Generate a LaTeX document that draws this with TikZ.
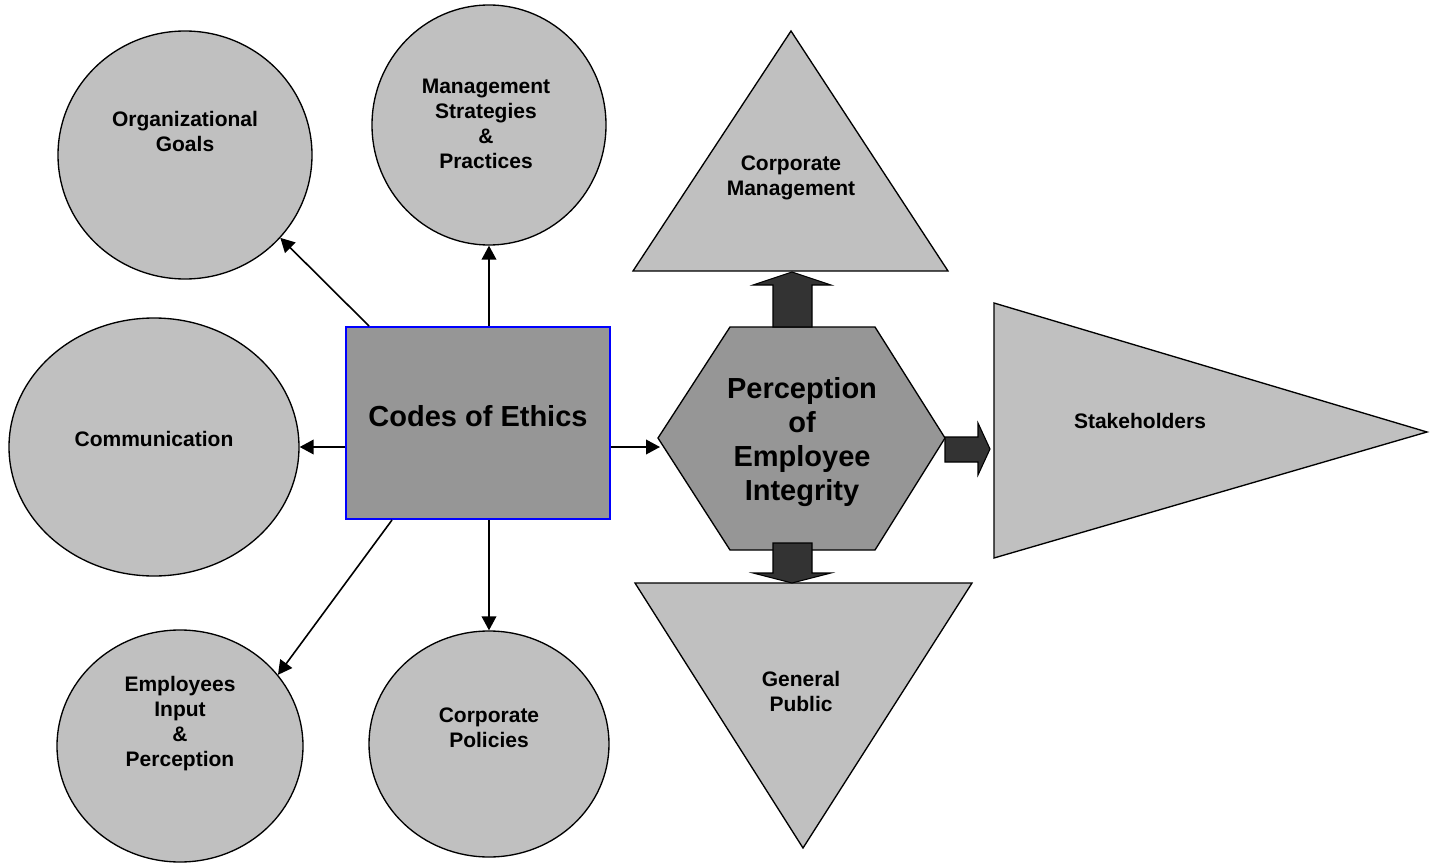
\documentclass[tikz,border=0pt]{standalone}
\usepackage{fontspec}
\setmainfont{Liberation Sans}
\usetikzlibrary{shapes.geometric,arrows.meta,calc}
\definecolor{lightgr}{HTML}{C0C0C0}
\definecolor{midgr}{HTML}{969696}
\definecolor{darkgr}{HTML}{333333}
\begin{document}
\begin{tikzpicture}[x=0.75pt,y=-0.75pt,
  bubble/.style={ellipse, draw=black, line width=1pt, fill=lightgr, inner sep=0pt},
  smalltxt/.style={font=\bfseries\fontsize{15.75}{18.75}\selectfont, align=center, inner sep=0pt},
  bigtxt/.style={font=\bfseries\fontsize{21.75}{25.5}\selectfont, align=center, inner sep=0pt},
  conn/.style={line width=1.2pt, -{Triangle[length=10.5pt,width=11pt]}},
  flat/.style={draw=black, line width=1pt, fill=lightgr, line join=miter},
  blockarrow/.style={draw=black, line width=0.8pt, fill=darkgr, line join=miter},
]
\useasboundingbox (0,0) rectangle (1432,863);

% ---- ellipses around the code of ethics ----
\node[bubble, minimum width=190.5pt, minimum height=186pt] (org)  at (185,155) {};
\node[bubble, minimum width=175.5pt, minimum height=180pt] (mgmt) at (489,125) {};
\node[bubble, minimum width=217.5pt, minimum height=193.5pt] (comm) at (154,447) {};
\node[bubble, minimum width=184.5pt, minimum height=174pt] (emp)  at (180,746) {};
\node[bubble, minimum width=180pt, minimum height=169.5pt] (pol)  at (489,744) {};

\node[smalltxt] (orgT)  at (185,131) {Organizational\\Goals};
\node[smalltxt] (mgmtT) at (486,124) {Management\\Strategies\\\&\\Practices};
\node[smalltxt] (commT) at (154,439) {Communication};
\node[smalltxt] (empT)  at (180,724) {Employees\\Input\\\&\\Perception};
\node[smalltxt] (polT)  at (489,728) {Corporate\\Policies};

% ---- central box ----
\node[draw=blue, line width=1.4pt, fill=midgr, minimum width=198pt, minimum height=144pt,
      inner sep=0pt] (box) at (478,423) {};
\node[bigtxt] (boxT) at (478,416) {Codes of Ethics};

% ---- connectors from the box ----
\draw[conn] ($(box.north west)+(24,0)$) -- (org.-41);
\draw[conn] (mgmt.south |- box.north) -- (mgmt.south);
\draw[conn] (box.west |- comm.east) -- (comm.east);
\draw[conn] ($(box.south west)+(47,0)$) -- (emp.36);
\draw[conn] (pol.north |- box.south) -- (pol.north);

% ---- audience triangles ----
\coordinate (tA) at (791,31);
\coordinate (tL) at (633,271);
\coordinate (tR) at (948,271);
\draw[flat] (tA) -- (tR) -- (tL) -- cycle;
\node[smalltxt] (corpT) at (791,178) {Corporate\\Management};

\coordinate (bA) at (803,848);
\coordinate (bL) at (635,583);
\coordinate (bR) at (972,583);
\draw[flat] (bL) -- (bR) -- (bA) -- cycle;
\node[smalltxt] (pubT) at (801,691) {General\\Public};

\coordinate (sT) at (994,303);
\coordinate (sB) at (994,558);
\coordinate (sA) at (1427,432);
\draw[flat] (sT) -- (sA) -- (sB) -- cycle;
\node[smalltxt] (stakeT) at (1140,421) {Stakeholders};

% ---- hexagon ----
\coordinate (hL)  at (658,438);
\coordinate (hTL) at (730,327);
\coordinate (hTR) at (875,327);
\coordinate (hR)  at (945,438);
\coordinate (hBR) at (875,550);
\coordinate (hBL) at (730,550);
\draw[flat, fill=midgr] (hL) -- (hTL) -- (hTR) -- (hR) -- (hBR) -- (hBL) -- cycle;
\node[bigtxt] (hexT) at (802,442) {Perception\\of\\Employee\\Integrity};

\coordinate (hexIn) at (660,447);
\draw[conn] (box.east |- comm.east) -- (hexIn);

% ---- block arrows out of the hexagon ----
\draw[blockarrow] (773,327) -- (773,285) -- (753,285) -- (792,272) -- (831,285)
                  -- (812,285) -- (812,327) -- cycle;
\draw[blockarrow] (773,543) -- (773,573) -- (753,573) -- (792,583) -- (831,573)
                  -- (812,573) -- (812,543) -- cycle;
\draw[blockarrow] (945,437) -- (978,437) -- (978,423) -- (990,449) -- (978,475)
                  -- (978,462) -- (945,462) -- cycle;
\end{tikzpicture}
\end{document}
